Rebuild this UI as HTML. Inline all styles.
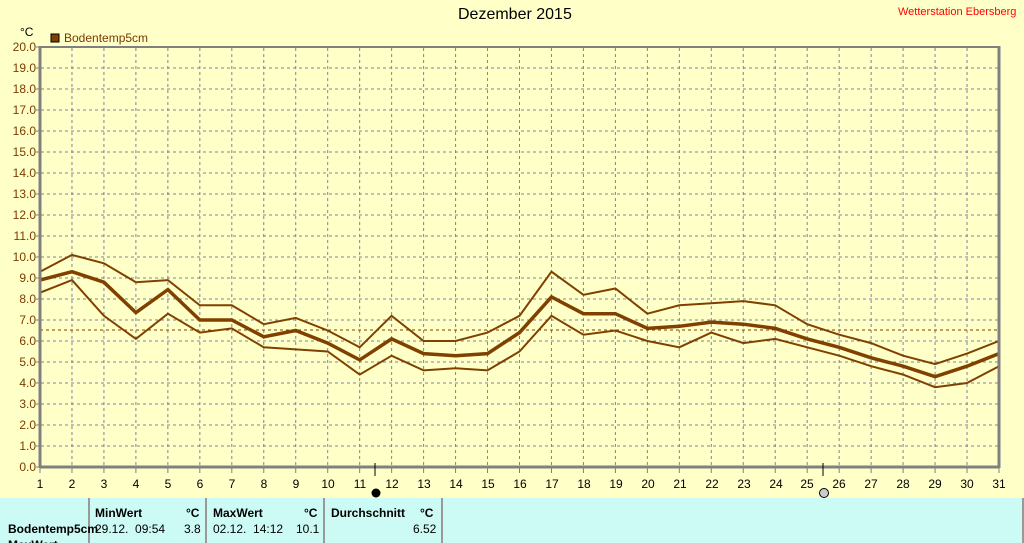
<!DOCTYPE html>
<html><head><meta charset="utf-8"><style>
html,body{margin:0;padding:0;width:1024px;height:543px;overflow:hidden;background:#ffffc8;font-family:"Liberation Sans",sans-serif;position:relative;}
.t{position:absolute;white-space:nowrap;}
.tb{position:absolute;left:0;top:498px;width:1022px;height:45px;background:#ccfaf5;border-right:2px solid #999;}
.v{position:absolute;top:498px;width:2px;height:45px;background:#999;}
.b{font-weight:bold;font-size:12px;position:absolute;white-space:nowrap;color:#000;line-height:14px}
.n{font-size:12px;position:absolute;white-space:nowrap;color:#000;line-height:14px}
</style></head><body>
<svg width="1024" height="543" style="position:absolute;left:0;top:0" xmlns="http://www.w3.org/2000/svg">
<g id="grid" stroke="#8080a0" stroke-dasharray="3,3" stroke-width="1"></g>
<line x1="40" y1="330" x2="999" y2="330" stroke="#804000" stroke-dasharray="3,3"/>
<polyline id="pmax" fill="none" stroke="#804000" stroke-width="2"/>
<polyline id="pmin" fill="none" stroke="#804000" stroke-width="2"/>
<polyline id="pavg" fill="none" stroke="#804000" stroke-width="3.5"/>
<line x1="40" y1="47" x2="999" y2="47" stroke="#808080" stroke-width="2"/>
<line x1="40" y1="46" x2="40" y2="468" stroke="#808080" stroke-width="3"/>
<line x1="999" y1="46" x2="999" y2="468" stroke="#808080" stroke-width="3"/>
<line x1="40" y1="467" x2="999" y2="467" stroke="#808080" stroke-width="3"/>
<g id="ticks" stroke="#808080" stroke-width="1"></g>
<line x1="375" y1="463" x2="375" y2="476" stroke="#000"/>
<line x1="823" y1="463" x2="823" y2="476" stroke="#000"/>
<circle cx="376" cy="493" r="4.5" fill="#000"/>
<circle cx="824" cy="493" r="4.5" fill="#ccc" stroke="#000"/>
<rect x="51" y="34" width="8" height="8" fill="#804000" stroke="#000"/>
<g font-family="Liberation Sans" font-size="12" fill="#7a3a00" text-anchor="end">
<text x="36" y="51">20.0</text><text x="36" y="72">19.0</text><text x="36" y="93">18.0</text><text x="36" y="114">17.0</text><text x="36" y="135">16.0</text><text x="36" y="156">15.0</text><text x="36" y="177">14.0</text><text x="36" y="198">13.0</text><text x="36" y="219">12.0</text><text x="36" y="240">11.0</text><text x="36" y="261">10.0</text><text x="36" y="282">9.0</text><text x="36" y="303">8.0</text><text x="36" y="324">7.0</text><text x="36" y="345">6.0</text><text x="36" y="366">5.0</text><text x="36" y="387">4.0</text><text x="36" y="408">3.0</text><text x="36" y="429">2.0</text><text x="36" y="450">1.0</text><text x="36" y="471">0.0</text>
</g>
<g font-family="Liberation Sans" font-size="12" fill="#000" text-anchor="middle">
<text x="40" y="488">1</text><text x="72" y="488">2</text><text x="104" y="488">3</text><text x="136" y="488">4</text><text x="168" y="488">5</text><text x="200" y="488">6</text><text x="232" y="488">7</text><text x="264" y="488">8</text><text x="296" y="488">9</text><text x="328" y="488">10</text><text x="360" y="488">11</text><text x="392" y="488">12</text><text x="424" y="488">13</text><text x="456" y="488">14</text><text x="488" y="488">15</text><text x="520" y="488">16</text><text x="552" y="488">17</text><text x="584" y="488">18</text><text x="616" y="488">19</text><text x="648" y="488">20</text><text x="680" y="488">21</text><text x="712" y="488">22</text><text x="744" y="488">23</text><text x="776" y="488">24</text><text x="807" y="488">25</text><text x="839" y="488">26</text><text x="871" y="488">27</text><text x="903" y="488">28</text><text x="935" y="488">29</text><text x="967" y="488">30</text><text x="999" y="488">31</text>
</g>
</svg>
<div class="t" style="left:458px;top:6px;font-size:16px;color:#000">Dezember 2015</div>
<div class="t" style="left:898px;top:6px;font-size:11px;color:#ff0000">Wetterstation Ebersberg</div>
<div class="t" style="left:20px;top:25px;font-size:12px;color:#000">°C</div>
<div class="t" style="left:64px;top:31px;font-size:12px;color:#7a3a00">Bodentemp5cm</div>
<div class="tb"></div>
<div class="v" style="left:88px"></div><div class="v" style="left:205px"></div><div class="v" style="left:323px"></div><div class="v" style="left:441px"></div>
<div class="b" style="left:95px;top:506px">MinWert</div><div class="b" style="left:186px;top:506px">°C</div>
<div class="b" style="left:213px;top:506px">MaxWert</div><div class="b" style="left:304px;top:506px">°C</div>
<div class="b" style="left:331px;top:506px">Durchschnitt</div><div class="b" style="left:420px;top:506px">°C</div>
<div class="b" style="left:8px;top:522px">Bodentemp5cm</div>
<div class="n" style="left:95px;top:522px">29.12.&nbsp; 09:54</div><div class="n" style="left:184px;top:522px">3.8</div>
<div class="n" style="left:213px;top:522px">02.12.&nbsp; 14:12</div><div class="n" style="left:296px;top:522px">10.1</div>
<div class="n" style="left:413px;top:522px">6.52</div>
<div class="b" style="left:8px;top:538px">MaxWert</div>
<script>
var mx=[9.3,10.1,9.7,8.8,8.9,7.7,7.7,6.8,7.1,6.5,5.7,7.2,6.0,6.0,6.4,7.2,9.3,8.2,8.5,7.3,7.7,7.8,7.9,7.7,6.8,6.3,5.9,5.3,4.9,5.4,6.0];
var av=[8.9,9.3,8.8,7.35,8.45,7.0,7.0,6.2,6.5,5.9,5.1,6.1,5.4,5.3,5.4,6.4,8.1,7.3,7.3,6.6,6.7,6.9,6.8,6.6,6.1,5.7,5.2,4.8,4.3,4.8,5.4];
var mn=[8.3,8.9,7.2,6.1,7.3,6.4,6.6,5.7,5.6,5.5,4.4,5.3,4.6,4.7,4.6,5.5,7.2,6.3,6.5,6.0,5.7,6.4,5.9,6.1,5.7,5.3,4.8,4.4,3.8,4.0,4.8];
function X(i){return 40+i*959/30}function Y(v){return 467-21*v}
function pts(a){return a.map(function(v,i){return X(i).toFixed(1)+","+Y(v).toFixed(1)}).join(" ")}
document.getElementById("pmax").setAttribute("points",pts(mx));
document.getElementById("pmin").setAttribute("points",pts(mn));
document.getElementById("pavg").setAttribute("points",pts(av));
var ns="http://www.w3.org/2000/svg",g=document.getElementById("grid"),tk=document.getElementById("ticks");
function L(p,a,b,c,d){var l=document.createElementNS(ns,"line");l.setAttribute("x1",a);l.setAttribute("y1",b);l.setAttribute("x2",c);l.setAttribute("y2",d);p.appendChild(l)}
for(var i=1;i<30;i++)L(g,X(i),48,X(i),466);
for(var j=1;j<20;j++)L(g,41,Y(j),998,Y(j));
for(var i=0;i<31;i++)L(tk,X(i),467,X(i),473);
for(var j=0;j<=20;j++)L(tk,36,Y(j),40,Y(j));
</script>
</body></html>
